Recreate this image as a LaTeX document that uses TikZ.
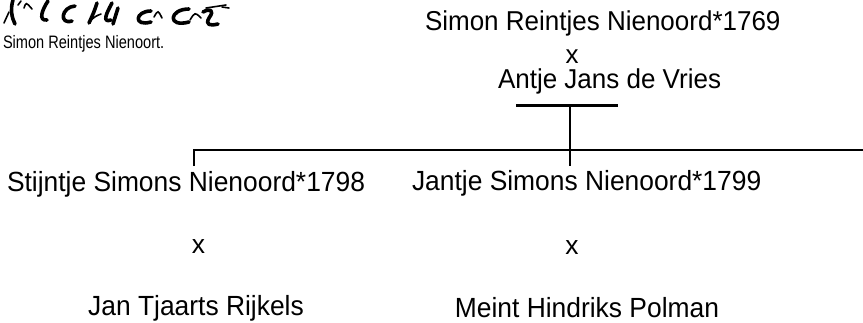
\documentclass[tikz,border=0pt]{standalone}
\usepackage{fontspec}
\setmainfont{Liberation Sans}
\newcommand{\tallx}[1]{\scalebox{1}[1.05]{#1}}
\begin{document}
\begin{tikzpicture}[x=1pt,y=-1pt,
  txt/.style={inner sep=0pt,outer sep=0pt,font=\fontsize{26}{30}\selectfont},
  ctxt/.style={inner sep=0pt,outer sep=0pt,font=\fontsize{26.4}{30}\selectfont},
  small/.style={inner sep=0pt,outer sep=0pt,font=\fontsize{18}{20}\selectfont},
  link/.style={line width=2.5pt},
  pen/.style={line width=3.6pt,line cap=round,line join=round},
  thinpen/.style={line width=1.6pt,line cap=round}]
\useasboundingbox (0,0) rectangle (863,322);
% signature (handwritten)
\draw[pen] (13,0) .. controls (10,10) and (12,18) .. (15,24);
\draw[thinpen] (4,23) -- (9,12);
\draw[thinpen] (18,5) -- (21,1);
\draw[thinpen] (24,8) .. controls (26,2) .. (32,9);
\draw[pen] (48,1) .. controls (42,10) and (38,21) .. (47,20);
\draw[pen] (75,6) .. controls (61,7) and (59,25) .. (72,21);
\draw[pen] (97,3) .. controls (94,12) .. (89,23);
\draw[thinpen] (91,20) .. controls (96,16) .. (101,14);
\draw[pen] (112,3) .. controls (106,14) and (102,23) .. (111,20);
\draw[pen] (118,8) .. controls (116,16) .. (113,24);
\draw[pen] (151,11) .. controls (135,11) and (133,27) .. (151,22);
\draw[thinpen] (154,17) .. controls (158,10) .. (162,18);
\draw[pen] (189,9) .. controls (169,9) and (167,28) .. (189,22);
\draw[thinpen] (190,20) .. controls (195,12) .. (201,18);
\draw[pen] (203,12) .. controls (210,8) and (215,10) .. (209,18) .. controls (205,25) and (210,26) .. (218,24);
\draw[thinpen] (206,8) -- (226,5);
\draw[thinpen] (222,7) -- (229,8);
\node[small,anchor=base west] (sig) at (3,48.3) {\scalebox{0.81}[1]{Simon Reintjes Nienoort.}};
% parents
\node[txt,anchor=base west] (father) at (425,30.5) {\tallx{Simon Reintjes Nienoord*1769}};
\node[txt,anchor=base] (px) at (572,63.5) {x};
\node[txt,anchor=base west] (mother) at (498,88.5) {\tallx{Antje Jans de Vries}};
% children
\node[ctxt,anchor=base west] (c1) at (7,191) {\tallx{Stijntje Simons Nienoord*1798}};
\node[ctxt,anchor=base west] (c2) at (412,190.5) {\tallx{Jantje Simons Nienoord*1799}};
\node[ctxt,anchor=base] (c1x) at (198.5,253.5) {x};
\node[ctxt,anchor=base] (c2x) at (572,254) {x};
\node[ctxt,anchor=base] (c1s) at (196,315) {\tallx{Jan Tjaarts Rijkels}};
\node[ctxt,anchor=base] (c2s) at (587,317) {\tallx{Meint Hindriks Polman}};
% connectors
\coordinate (barL) at (516,105.7);
\coordinate (barR) at (618,105.7);
\coordinate (barM) at (570,105.7);
\coordinate (c2top) at (570,166);
\coordinate (c1top) at (194,166);
\coordinate (c1corner) at (194,150);
\coordinate (rowend) at (863,150);
\draw[link] (barL) -- (barR);
\draw[link] (barM) -- (c2top);
\draw[link] (c1top) -- (c1corner) -- (rowend);
\end{tikzpicture}
\end{document}
